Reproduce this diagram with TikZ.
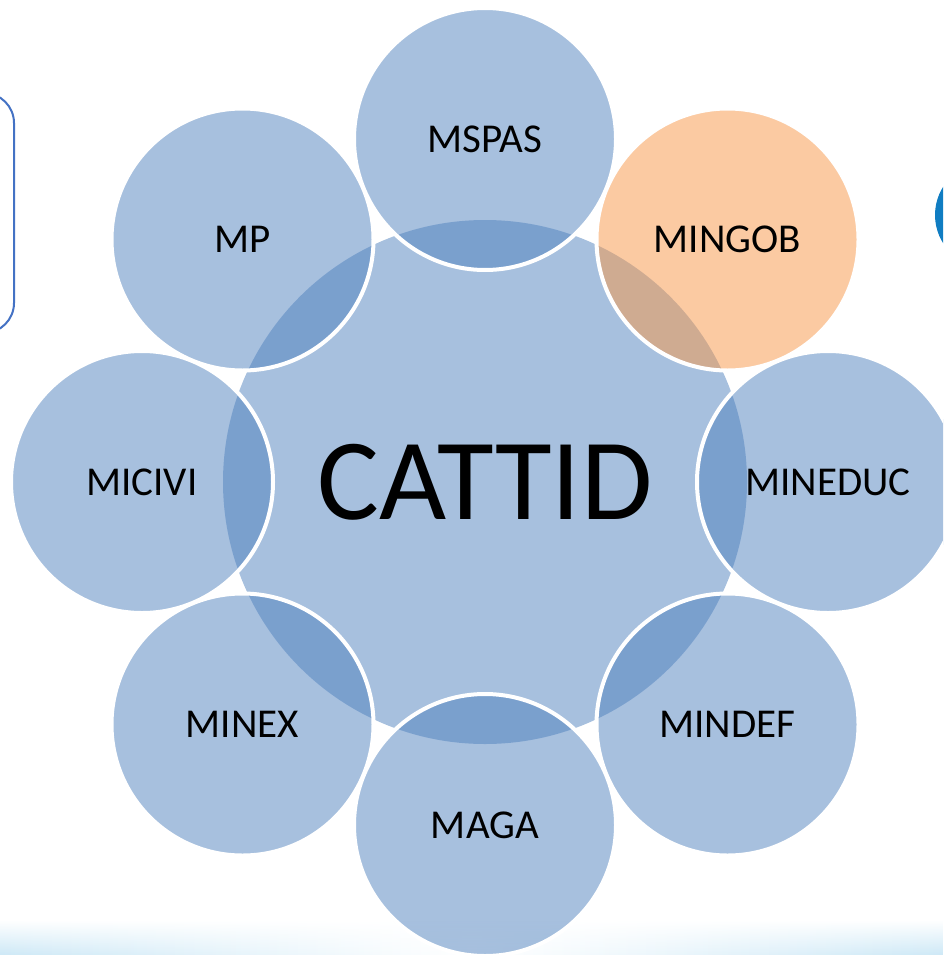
\documentclass[tikz,border=0pt]{standalone}
\usepackage{fontspec}
\usetikzlibrary{fadings}
\setmainfont{Carlito}
\definecolor{ringblue}{RGB}{79,129,189}
\definecolor{ringorange}{RGB}{247,150,70}
\definecolor{frameblue}{RGB}{68,114,196}
\definecolor{dotblue}{RGB}{16,125,194}
\definecolor{glowcyan}{RGB}{205,232,246}
\tikzset{
  hub/.style={circle, fill=ringblue, fill opacity=0.5, text opacity=1, minimum size=524pt, inner sep=0pt, font=\fontsize{116}{120}\selectfont},
  spoke/.style={circle, fill=ringblue, fill opacity=0.5, text opacity=1, draw=white, line width=4pt, minimum size=262pt, inner sep=0pt, font=\fontsize{41}{44}\selectfont},
  spokehot/.style={spoke, fill=ringorange},
}
\begin{document}
\begin{tikzpicture}[x=1pt, y=-1pt]
            \useasboundingbox (0,0) rectangle (943,955);
            \clip (0,0) rectangle (943,955);
            \shade[left color=glowcyan, right color=glowcyan, middle color=white, path fading=north] (0,920) rectangle (943,955);
            \draw[frameblue, line width=2pt, rounded corners=30pt] (-60,93) rectangle (14,333);
            \fill[dotblue] (988,215) circle (53pt);

            \node[hub] (cattid) at (485,482) {CATTID};

            \node[spoke] (mspas) at (485,139) {MSPAS};
            \node[spokehot] (mingob) at (727.5,239.5) {MINGOB};
            \node[spoke] (mineduc) at (828,482) {MINEDUC};
            \node[spoke] (mindef) at (727.5,724.5) {MINDEF};
            \node[spoke] (maga) at (485,825) {MAGA};
            \node[spoke] (minex) at (242.5,724.5) {MINEX};
            \node[spoke] (micivi) at (142,482) {MICIVI};
            \node[spoke] (mp) at (242.5,239.5) {MP};
        \end{tikzpicture}
\end{document}
